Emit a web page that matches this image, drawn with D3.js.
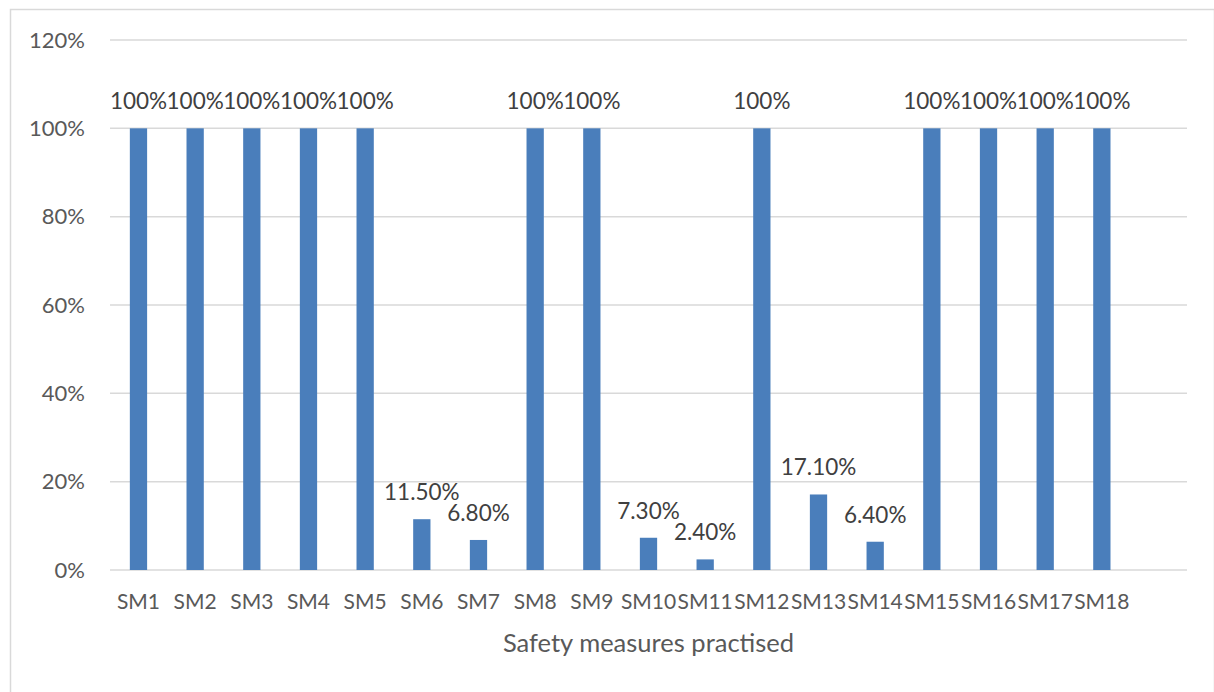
<!DOCTYPE html>
<html>
<head>
<meta charset="utf-8">
<script src="https://cdn.jsdelivr.net/npm/d3@7"></script>
<style>
  body { margin: 0; background: #fff; }
  svg { display: block; font-family: Lato, "Noto Sans", sans-serif; }
</style>
</head>
<body>
<svg id="chart"></svg>
<script>
var categories = ["SM1", "SM2", "SM3", "SM4", "SM5", "SM6", "SM7", "SM8", "SM9",
                  "SM10", "SM11", "SM12", "SM13", "SM14", "SM15", "SM16", "SM17", "SM18"];
var values = [1, 1, 1, 1, 1, 0.115, 0.068, 1, 1, 0.073, 0.024, 1, 0.171, 0.064, 1, 1, 1, 1];
var valueLabels = ["100%", "100%", "100%", "100%", "100%", "11.50%", "6.80%", "100%", "100%",
                   "7.30%", "2.40%", "100%", "17.10%", "6.40%", "100%", "100%", "100%", "100%"];
var yTicks = [0, 0.2, 0.4, 0.6, 0.8, 1, 1.2];
var xTitle = "Safety measures practised";

var width = 1214,
    height = 692,
    margin = {top: 40, right: 27, bottom: 122, left: 110};

var svg = d3.select("#chart").attr("width", width).attr("height", height);

// outer chart border
svg.append("rect")
    .attr("x", 10.5).attr("y", 9.5)
    .attr("width", width - 10).attr("height", height)
    .attr("fill", "none").attr("stroke", "#d9d9d9").attr("stroke-width", 1.5);

// the source chart leaves one empty category slot at the end
var x = d3.scaleBand()
    .domain(categories.concat([""]))
    .range([margin.left, width - margin.right])
    .paddingInner(0.695)
    .paddingOuter(0.35);

var y = d3.scaleLinear()
    .domain([0, 1.2])
    .range([height - margin.bottom, margin.top]);

var g = svg.append("g");

g.selectAll(".grid").data(yTicks).enter().append("line")
    .attr("class", "grid")
    .attr("x1", margin.left).attr("x2", width - margin.right)
    .attr("y1", function (d) { return y(d); }).attr("y2", function (d) { return y(d); })
    .attr("stroke", "#d9d9d9").attr("stroke-width", 1.5);

var yAxis = d3.axisLeft(y).tickValues(yTicks).tickSize(0).tickPadding(25)
    .tickFormat(d3.format(".0%"));
g.append("g").attr("transform", "translate(" + margin.left + ",0)").call(yAxis)
    .call(function (a) { a.select(".domain").remove(); })
    .selectAll("text").attr("font-size", 22).attr("fill", "#595959")
    .attr("font-family", "Lato, 'Noto Sans', sans-serif");

g.selectAll(".bar").data(values).enter().append("rect")
    .attr("class", "bar")
    .attr("x", function (d, i) { return x(categories[i]); })
    .attr("width", x.bandwidth())
    .attr("y", function (d) { return y(d); })
    .attr("height", function (d) { return y(0) - y(d); })
    .attr("fill", "#4a7ebb");

g.selectAll(".vlabel").data(values).enter().append("text")
    .attr("class", "vlabel")
    .attr("x", function (d, i) { return x(categories[i]) + x.bandwidth() / 2; })
    .attr("y", function (d) { return y(d) - 19; })
    .attr("text-anchor", "middle")
    .attr("font-size", 22.5).attr("fill", "#404040")
    .text(function (d, i) { return valueLabels[i]; });

var xAxis = d3.axisBottom(x).tickSize(0).tickPadding(24);
g.append("g").attr("transform", "translate(0," + y(0) + ")").call(xAxis)
    .call(function (a) { a.select(".domain").remove(); })
    .selectAll("text").attr("font-size", 21).attr("fill", "#595959")
    .attr("font-family", "Lato, 'Noto Sans', sans-serif");

svg.append("text")
    .attr("x", (margin.left + width - margin.right) / 2)
    .attr("y", 652)
    .attr("text-anchor", "middle")
    .attr("font-size", 25.5).attr("fill", "#595959")
    .text(xTitle);
</script>
</body>
</html>
